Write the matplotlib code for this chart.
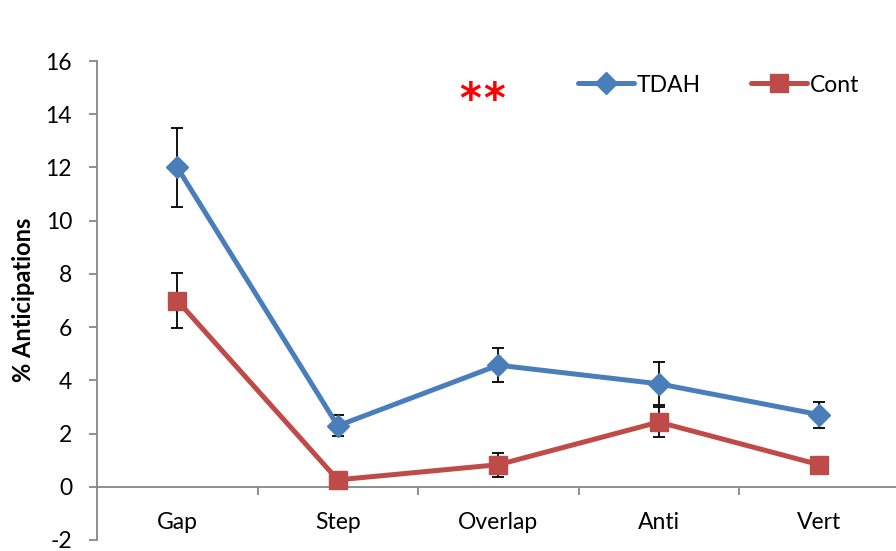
import matplotlib
matplotlib.use("Agg")
import matplotlib.pyplot as plt
import numpy as np

plt.rcParams['font.family'] = ['Lato', 'DejaVu Sans']

categories = ["Gap", "Step", "Overlap", "Anti", "Vert"]
tdah = [12.0, 2.29, 4.57, 3.87, 2.71]
tdah_err = [1.47, 0.40, 0.65, 0.81, 0.49]
cont = [7.0, 0.26, 0.83, 2.43, 0.83]
cont_err = [1.02, 0.05, 0.45, 0.55, 0.05]
yticks = [-2, 0, 2, 4, 6, 8, 10, 12, 14, 16]

blue = "#4A7EBB"
red = "#BE4B48"
axis_gray = "#868686"

fig = plt.figure(figsize=(8.96, 5.51), dpi=100)
ax = fig.add_axes([97/896, 1-540/551, (899.5-97)/896, (540-61)/551])

x = np.arange(len(categories))

ax.errorbar(x, tdah, yerr=tdah_err, fmt='none', ecolor='black', elinewidth=1.3,
            capsize=4, capthick=1.3, zorder=2)
ax.errorbar(x, cont, yerr=cont_err, fmt='none', ecolor='black', elinewidth=1.3,
            capsize=4, capthick=1.3, zorder=2)
ax.plot(x, tdah, color=blue, lw=3.6, marker='D', markersize=11, label="TDAH",
        zorder=3, solid_capstyle='round')
ax.plot(x, cont, color=red, lw=3.6, marker='s', markersize=13.5, label="Cont",
        zorder=4, solid_capstyle='round')

ax.set_xlim(-0.5, len(categories) - 0.5)
ax.set_ylim(-2, 16)
ax.set_yticks(yticks)
ax.set_yticklabels([str(v) for v in yticks])

for s in ['top', 'right']:
    ax.spines[s].set_visible(False)
ax.spines['bottom'].set_position(('data', 0))
for s in ['left', 'bottom']:
    ax.spines[s].set_color(axis_gray)
    ax.spines[s].set_linewidth(1.3)

fs = 16.5
ax.set_xticks(x)
ax.set_xticklabels(categories)
ax.set_xticks(np.arange(0.5, len(categories) - 0.5, 1.0), minor=True)
ax.tick_params(axis='x', which='major', length=0, pad=18, labelsize=fs)
ax.tick_params(axis='x', which='minor', length=6, width=1.3, color=axis_gray, direction='out')
ax.tick_params(axis='y', which='major', length=6, width=1.3, color=axis_gray, direction='out',
               pad=12, labelsize=fs)

fig.text(24/896, 1-300/551, "% Anticipations", rotation=90, fontsize=17,
         fontweight='bold', ha='center', va='center')

leg = ax.legend(loc='center left', bbox_to_anchor=(578/896, 1-85/551),
                bbox_transform=fig.transFigure, ncol=2, frameon=False,
                fontsize=fs, handlelength=2.45, handletextpad=0.1,
                columnspacing=2.2, borderpad=0, borderaxespad=0)

for sx in (470, 494):
    fig.text(sx/896, 1-113/551, "*", color='#FF0000', fontsize=30, ha='center',
             va='baseline', family='DejaVu Sans', fontweight='bold')

fig.savefig("out.png", dpi=100)
